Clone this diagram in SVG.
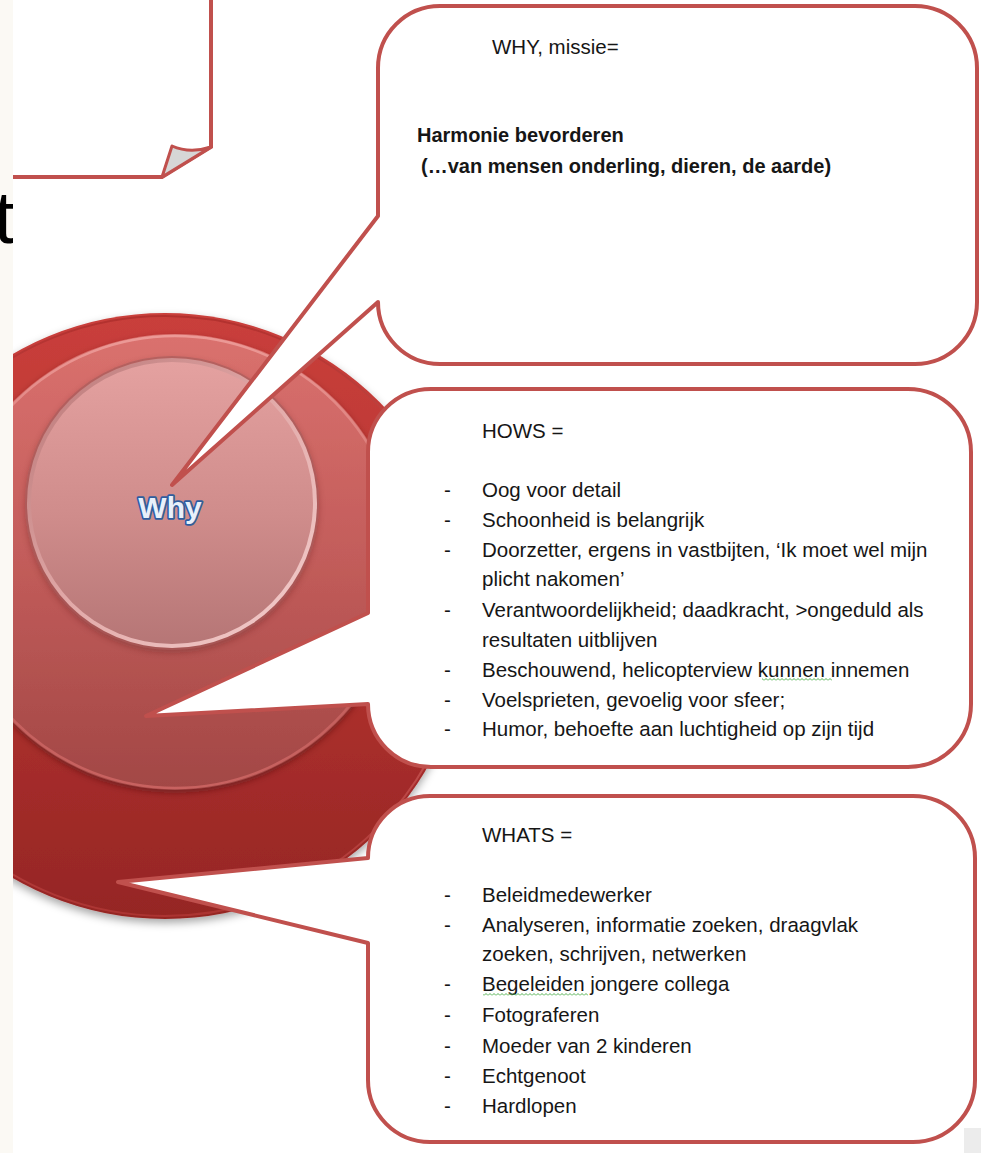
<svg xmlns="http://www.w3.org/2000/svg" width="981" height="1153" viewBox="0 0 981 1153">
  <style>
    .callout{fill:#fff;stroke:#c0504d;stroke-width:4;stroke-linejoin:round}
    .note{fill:#fff;stroke:#c0504d;stroke-width:4;stroke-linejoin:miter}
    .txt{font-family:"Liberation Sans",Arial,sans-serif;font-size:20.5px;fill:#161616}
    .bold{font-size:20px;font-weight:bold}
    .squiggle{fill:url(#squiggle)}
  </style>
  <defs>
    <clipPath id="strip"><rect x="0" y="0" width="13" height="1153"/></clipPath>
    <clipPath id="picture"><rect x="13" y="0" width="968" height="1153"/></clipPath>
    <linearGradient id="outerFill" x1="0" y1="0" x2="0" y2="1">
      <stop offset="0" stop-color="#c93f3b"/>
      <stop offset="0.45" stop-color="#b73431"/>
      <stop offset="1" stop-color="#952624"/>
    </linearGradient>
    <linearGradient id="middleFill" x1="0" y1="0" x2="0" y2="1">
      <stop offset="0" stop-color="#da716e"/>
      <stop offset="0.5" stop-color="#c25c5a"/>
      <stop offset="1" stop-color="#a24745"/>
    </linearGradient>
    <linearGradient id="middleRim" x1="0" y1="0" x2="0" y2="1">
      <stop offset="0" stop-color="#ec9a97"/>
      <stop offset="0.6" stop-color="#d06a67" stop-opacity="0.5"/>
      <stop offset="1" stop-color="#c86260"/>
    </linearGradient>
    <linearGradient id="innerFace" x1="0" y1="0" x2="0" y2="1">
      <stop offset="0" stop-color="#e4a1a0"/>
      <stop offset="0.55" stop-color="#cf8c8b"/>
      <stop offset="1" stop-color="#b67676"/>
    </linearGradient>
    <linearGradient id="innerRim" x1="0" y1="0" x2="1" y2="1">
      <stop offset="0" stop-color="#b87474"/>
      <stop offset="0.5" stop-color="#e2aaa9"/>
      <stop offset="1" stop-color="#f4cfce"/>
    </linearGradient>
    <linearGradient id="outerRim" x1="0" y1="0" x2="0" y2="1">
      <stop offset="0" stop-color="#a92a28"/>
      <stop offset="0.5" stop-color="#e07a76"/>
      <stop offset="1" stop-color="#b53a38"/>
    </linearGradient>
    <filter id="discShadow" x="-20%" y="-20%" width="140%" height="140%">
      <feDropShadow dx="0" dy="4" stdDeviation="4" flood-color="#000" flood-opacity="0.35"/>
    </filter>
    <filter id="layerShadow" x="-20%" y="-20%" width="140%" height="140%">
      <feDropShadow dx="0" dy="3" stdDeviation="3" flood-color="#4a0e0e" flood-opacity="0.5"/>
    </filter>
    <pattern id="squiggle" x="0" y="0" width="4" height="3" patternUnits="userSpaceOnUse">
      <path d="M0,2.5 L2,0.5 L4,2.5" fill="none" stroke="#52b050" stroke-width="1"/>
    </pattern>
  </defs>

  <!-- page background and the slide edge on the left -->
  <rect width="981" height="1153" fill="#fff"/>
  <rect x="0" y="0" width="13" height="1153" fill="#fbf9f4"/>
  <rect x="964" y="1128" width="17" height="25" fill="#ececec"/>

  <!-- slide title, only its last letter shows at the edge -->
  <g id="title-fragment" clip-path="url(#strip)">
    <text x="-6" y="243" font-family="Liberation Sans, Arial, sans-serif" font-size="74" fill="#000">t</text>
  </g>

  <g clip-path="url(#picture)">
    <!-- folded-corner note, top left -->
    <g id="note">
      <path class="note" d="M-20,-10 H211 V147 L162,177 H-20 Z"/>
      <path d="M162,177 L172,146 Q190,154 211,147 Z" fill="#d6d6d6" stroke="#c0504d" stroke-width="3" stroke-linejoin="round"/>
    </g>

    <!-- layered disc with the "Why" label -->
    <g id="why-disc">
      <circle cx="165" cy="616" r="303" fill="url(#outerFill)" filter="url(#discShadow)"/>
      <circle cx="165" cy="616" r="300" fill="none" stroke="url(#outerRim)" stroke-width="2" opacity="0.7"/>
      <circle cx="175" cy="562" r="228" fill="url(#middleFill)" filter="url(#layerShadow)"/>
      <circle cx="175" cy="562" r="226" fill="none" stroke="url(#middleRim)" stroke-width="2.5"/>
      <circle cx="172" cy="503" r="147" fill="#9a5656" opacity="0.55" filter="url(#layerShadow)"/>
      <circle cx="172" cy="503" r="145" fill="url(#innerRim)"/>
      <circle cx="172" cy="503" r="141" fill="url(#innerFace)"/>
      <text x="170" y="518" text-anchor="middle" font-family="Liberation Sans, Arial, sans-serif" font-size="30" font-weight="bold" fill="#e8f0fa" stroke="#2f5d9e" stroke-width="3.5" stroke-linejoin="round" paint-order="stroke">Why</text>
    </g>

    <!-- WHY callout -->
    <g id="why-callout">
      <path class="callout" d="M440,6 H915 A62,62 0 0 1 977,68 V302 A62,62 0 0 1 915,364 H440 A62,62 0 0 1 378,302 L172,485 L378,216 V68 A62,62 0 0 1 440,6 Z"/>
      <text class="txt" x="492" y="54">WHY, missie=</text>
      <text class="txt bold" x="417" y="142">Harmonie bevorderen</text>
      <text class="txt bold" x="421" y="173">(…van mensen onderling, dieren, de aarde)</text>
    </g>

    <!-- HOWS callout -->
    <g id="hows-callout">
      <path class="callout" d="M431,389 H908 A63,63 0 0 1 971,452 V704 A63,63 0 0 1 908,767 H431 A63,63 0 0 1 368,704 L146,716 L368,613 V452 A63,63 0 0 1 431,389 Z"/>
      <text class="txt" x="482" y="438">HOWS =</text>
      <text class="txt" x="444" y="497">-</text><text class="txt" x="482" y="497">Oog voor detail</text>
      <text class="txt" x="444" y="527">-</text><text class="txt" x="482" y="527">Schoonheid is belangrijk</text>
      <text class="txt" x="444" y="557">-</text><text class="txt" x="482" y="557">Doorzetter, ergens in vastbijten, ‘Ik moet wel mijn</text>
      <text class="txt" x="482" y="586">plicht nakomen’</text>
      <text class="txt" x="444" y="617">-</text><text class="txt" x="482" y="617">Verantwoordelijkheid; daadkracht, &gt;ongeduld als</text>
      <text class="txt" x="482" y="647">resultaten uitblijven</text>
      <text class="txt" x="444" y="677">-</text><text class="txt" x="482" y="677">Beschouwend, helicopterview kunnen innemen</text>
      <rect class="squiggle" x="762" y="678" width="70" height="3"/>
      <text class="txt" x="444" y="707">-</text><text class="txt" x="482" y="707">Voelsprieten, gevoelig voor sfeer;</text>
      <text class="txt" x="444" y="736">-</text><text class="txt" x="482" y="736">Humor, behoefte aan luchtigheid op zijn tijd</text>
    </g>

    <!-- WHATS callout -->
    <g id="whats-callout">
      <path class="callout" d="M430,796 H913 A62,62 0 0 1 975,858 V1080 A62,62 0 0 1 913,1142 H430 A62,62 0 0 1 368,1080 V943 L118,882 L368,858 A62,62 0 0 1 430,796 Z"/>
      <text class="txt" x="482" y="842">WHATS =</text>
      <text class="txt" x="444" y="902">-</text><text class="txt" x="482" y="902">Beleidmedewerker</text>
      <text class="txt" x="444" y="932">-</text><text class="txt" x="482" y="932">Analyseren, informatie zoeken, draagvlak</text>
      <text class="txt" x="482" y="961">zoeken, schrijven, netwerken</text>
      <text class="txt" x="444" y="991">-</text><text class="txt" x="482" y="991">Begeleiden jongere collega</text>
      <rect class="squiggle" x="483" y="993" width="105" height="3"/>
      <text class="txt" x="444" y="1022">-</text><text class="txt" x="482" y="1022">Fotograferen</text>
      <text class="txt" x="444" y="1053">-</text><text class="txt" x="482" y="1053">Moeder van 2 kinderen</text>
      <text class="txt" x="444" y="1083">-</text><text class="txt" x="482" y="1083">Echtgenoot</text>
      <text class="txt" x="444" y="1113">-</text><text class="txt" x="482" y="1113">Hardlopen</text>
    </g>
  </g>
</svg>
